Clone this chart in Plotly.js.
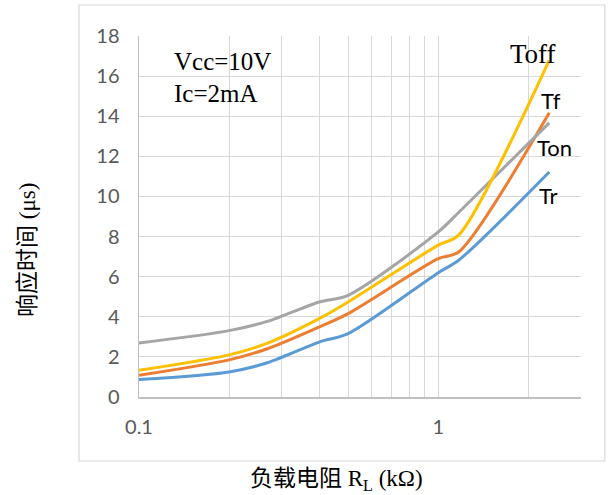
<!DOCTYPE html>
<html>
<head>
<meta charset="utf-8">
<script src="https://cdn.plot.ly/plotly-3.0.1.min.js"></script>
<style>html,body{margin:0;padding:0;background:#fff;}#chart{width:613px;height:495px;}</style>
</head>
<body>
<div id="chart"></div>
<script>
// Load resistance R_L (kΩ)
const rl = [0.1, 0.2, 0.27, 0.4, 0.5, 1.0, 1.17, 2.35];
// Response times (µs)
const tr   = [0.87, 1.25, 1.72, 2.74, 3.16, 6.2, 6.82, 11.22];
const tf   = [1.08, 1.85, 2.42, 3.49, 4.16, 6.9, 7.23, 14.17];
const ton  = [2.69, 3.31, 3.78, 4.74, 5.07, 8.23, 9.2, 13.67];
const toff = [1.33, 2.1, 2.7, 3.91, 4.74, 7.57, 8.07, 16.8];

const seriesNames = ['Tr', 'Tf', 'Ton', 'Toff'];
const seriesColors = ['#5B9BD5', '#ED7D31', '#A5A5A5', '#FFC000'];
const seriesData = [tr, tf, ton, toff];

const xTickVals = [0.1, 1];
const xTickText = ['0.1', '1'];
const xMinorVals = [0.2, 0.3, 0.4, 0.5, 0.6, 0.7, 0.8, 0.9, 2, 3];
const yTickVals = [0, 2, 4, 6, 8, 10, 12, 14, 16, 18];

const traces = seriesData.map((ys, i) => ({
  x: rl, y: ys, type: 'scatter', mode: 'lines', name: seriesNames[i],
  line: {color: seriesColors[i], width: 3, shape: 'spline', smoothing: 0.8},
  hoverinfo: 'skip'
}));

const serif = 'Liberation Serif, Times New Roman, Noto Sans CJK SC, serif';
const sans = 'Lato, Carlito, Open Sans, sans-serif';

const layout = {
  width: 613, height: 495,
  margin: {l: 139, r: 32, t: 36, b: 98},
  paper_bgcolor: '#ffffff', plot_bgcolor: '#ffffff',
  showlegend: false,
  xaxis: {
    type: 'log', range: [-1, Math.log10(3)],
    tickmode: 'array', tickvals: xTickVals, ticktext: xTickText,
    showgrid: true, gridcolor: '#d9d9d9', gridwidth: 1,
    minor: {tickmode: 'array', tickvals: xMinorVals, showgrid: true, gridcolor: '#d9d9d9', gridwidth: 1, ticks: ''},
    showline: true, linecolor: '#bfbfbf', linewidth: 1.5,
    ticks: '', ticklabelstandoff: 11,
    tickfont: {family: sans, size: 20, color: '#595959'},
    zeroline: false, fixedrange: true
  },
  yaxis: {
    range: [0, 18], tickmode: 'array', tickvals: yTickVals,
    showgrid: true, gridcolor: '#d9d9d9', gridwidth: 1,
    showline: true, linecolor: '#bfbfbf', linewidth: 1.5,
    ticks: '', ticklabelstandoff: 14,
    tickfont: {family: sans, size: 20, color: '#595959'},
    zeroline: false, fixedrange: true
  },
  shapes: [{
    type: 'rect', xref: 'paper', yref: 'paper',
    x0: -0.1357, x1: 1.054, y0: -0.1773, y1: 1.0859,
    line: {color: '#d9d9d9', width: 1.2}, fillcolor: 'rgba(0,0,0,0)', layer: 'below'
  }],
  annotations: [
    {xref: 'paper', yref: 'paper', x: (172 - 139) / 442, y: (397 - 62) / 361, xanchor: 'left', yanchor: 'middle',
     text: 'Vcc=10V', showarrow: false, font: {family: serif, size: 25, color: '#000'}},
    {xref: 'paper', yref: 'paper', x: (172 - 139) / 442, y: (397 - 93) / 361, xanchor: 'left', yanchor: 'middle',
     text: 'Ic=2mA', showarrow: false, font: {family: serif, size: 25, color: '#000'}},
    {xref: 'paper', yref: 'paper', x: (533 - 139) / 442, y: (397 - 54) / 361, xanchor: 'center', yanchor: 'middle',
     text: 'Toff', showarrow: false, font: {family: serif, size: 27, color: '#000'}},
    {xref: 'paper', yref: 'paper', x: (551 - 139) / 442, y: (397 - 100) / 361, xanchor: 'center', yanchor: 'middle',
     text: 'Tf', showarrow: false, font: {family: sans, size: 22, color: '#000'}},
    {xref: 'paper', yref: 'paper', x: (554 - 139) / 442, y: (397 - 147) / 361, xanchor: 'center', yanchor: 'middle',
     text: 'Ton', showarrow: false, font: {family: sans, size: 22, color: '#000'}},
    {xref: 'paper', yref: 'paper', x: (548 - 139) / 442, y: (397 - 195) / 361, xanchor: 'center', yanchor: 'middle',
     text: 'Tr', showarrow: false, font: {family: sans, size: 22, color: '#000'}},
    {xref: 'paper', yref: 'paper', x: (336 - 139) / 442, y: (397 - 480) / 361, xanchor: 'center', yanchor: 'middle',
     text: '负载电阻 R<sub>L</sub> (kΩ)', showarrow: false, font: {family: serif, size: 23, color: '#000'}},
    {xref: 'paper', yref: 'paper', x: (27 - 139) / 442, y: (397 - 250) / 361, xanchor: 'center', yanchor: 'middle',
     textangle: -90, text: '响应时间 (μs)', showarrow: false, font: {family: serif, size: 23, color: '#000'}}
  ]
};

Plotly.newPlot('chart', traces, layout, {displayModeBar: false, staticPlot: true});
</script>
</body>
</html>
